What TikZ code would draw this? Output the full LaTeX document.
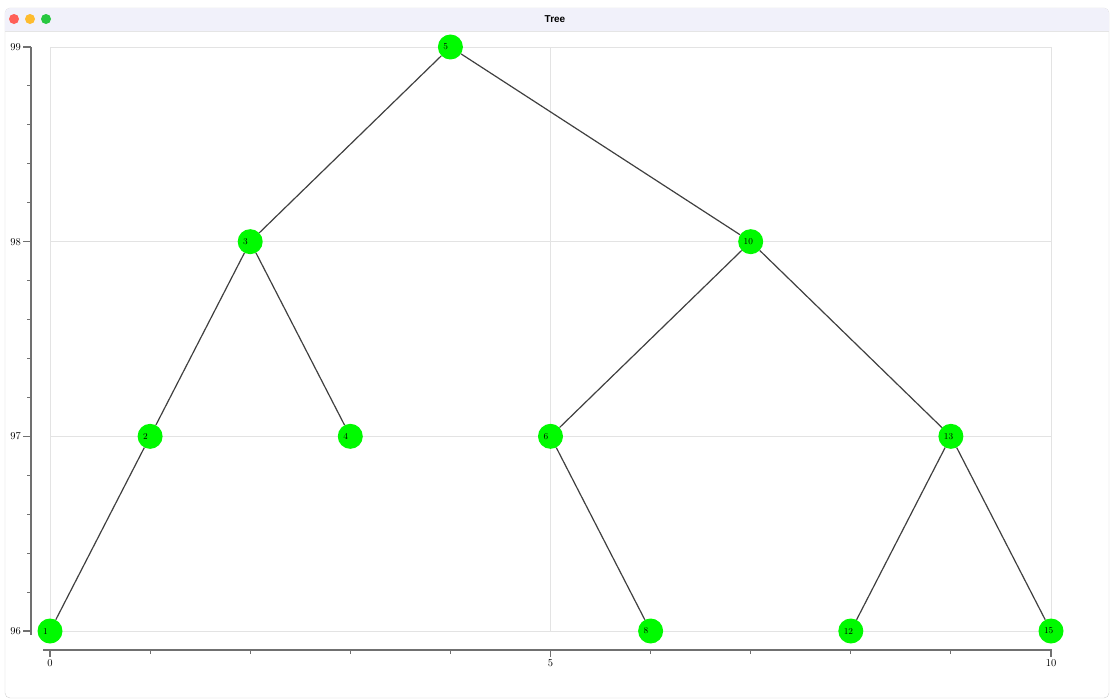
\documentclass[tikz,border=0pt]{standalone}
\usepackage{fontspec}
\newfontfamily\uifont{Liberation Sans}
\usepackage{xcolor}
\usepackage{tikz}

\definecolor{titlebar}{HTML}{F1F1FA}
\definecolor{gridgray}{HTML}{E3E3E3}
\definecolor{axisgray}{HTML}{707070}
\definecolor{edgegray}{HTML}{404040}
\definecolor{leafgreen}{HTML}{00FA00}
\definecolor{lightred}{HTML}{FF5F57}
\definecolor{lightamber}{HTML}{FEBC2E}
\definecolor{lightgreen}{HTML}{28C840}

\begin{document}
\begin{tikzpicture}[
  x=1pt,y=-1pt,
  treenode/.style={circle,fill=leafgreen,minimum size=25pt,inner sep=0pt,text width=14pt,align=left,font=\fontsize{9}{10}\selectfont},
  edge/.style={edgegray,line width=1.2pt},
  gridline/.style={gridgray,line width=0.9pt},
  axis/.style={axisgray,line width=1.4pt},
  ticklabel/.style={inner sep=0pt,font=\fontsize{10.5}{11}\selectfont}
]
\useasboundingbox (0,0) rectangle (1111,699);

% window frame and title bar
\draw[gray!35,fill=white,rounded corners=5pt] (5,8) rectangle (1109,698);
\fill[titlebar] (5,31) [rounded corners=5pt]-- (5,8) -- (1109,8) [sharp corners]-- (1109,31) -- cycle;
\draw[gray!20] (5,31) -- (1109,31);
\fill[lightred] (14,19) circle (5);
\fill[lightamber] (30,19) circle (5);
\fill[lightgreen] (46,19) circle (5);
\node[font=\uifont\bfseries\fontsize{10}{11}\selectfont] (title) at (555,19) {Tree};

% axes
\draw[axis] (31,47) -- (31,635);
\foreach \j in {1,...,14}
  \draw[axisgray,line width=1pt] (27,{47+38.933*\j}) -- (31,{47+38.933*\j});
\foreach \v/\py in {99/47,98/241.7,97/436.3,96/631}{
  \draw[axis] (23,\py) -- (31,\py);
  \node[ticklabel,anchor=east] (ylab\v) at (21,\py) {\v};
}
\draw[axis] (43,650) -- (1052,650);
\foreach \i in {1,...,9}
  \draw[axisgray,line width=1pt] ({50+100.1*\i},650) -- ({50+100.1*\i},654);
\foreach \v in {0,5,10}{
  \draw[axis] ({50+100.1*\v},650) -- ({50+100.1*\v},657);
  \node[ticklabel] (xlab\v) at ({50+100.1*\v},663) {\v};
}

\begin{scope}[shift={(50,631)},x=100.1pt,y=194.67pt]
% grid
\foreach \y in {0,...,3}
  \draw[gridline] (0,\y) -- (10,\y);
\foreach \x in {0,5,10}
  \draw[gridline] (\x,0) -- (\x,3);

% tree
\node[treenode] (n5) at (4,3) {5};
\node[treenode] (n3) at (2,2) {3};
\node[treenode] (n10) at (7,2) {10};
\node[treenode] (n2) at (1,1) {2};
\node[treenode] (n4) at (3,1) {4};
\node[treenode] (n6) at (5,1) {6};
\node[treenode] (n13) at (9,1) {13};
\node[treenode] (n1) at (0,0) {1};
\node[treenode] (n8) at (6,0) {8};
\node[treenode] (n12) at (8,0) {12};
\node[treenode] (n15) at (10,0) {15};

\foreach \a/\b in {n5/n3,n5/n10,n3/n2,n3/n4,n2/n1,n10/n6,n10/n13,n6/n8,n13/n12,n13/n15}
  \draw[edge] (\a) -- (\b);
\end{scope}
\end{tikzpicture}
\end{document}
